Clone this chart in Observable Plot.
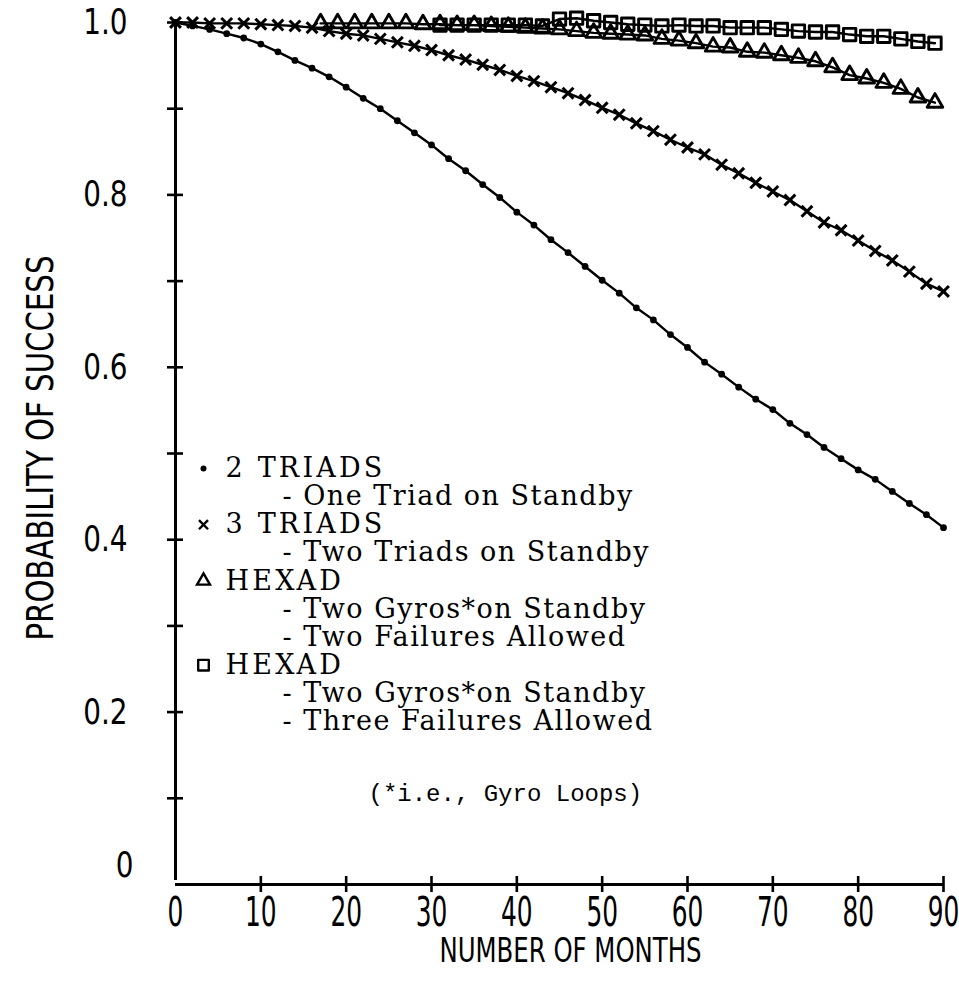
<!DOCTYPE html>
<html><head><meta charset="utf-8">
<script src="https://cdn.jsdelivr.net/npm/d3@7"></script>
<script src="https://cdn.jsdelivr.net/npm/@observablehq/plot@0.6"></script>
<style>
html,body{margin:0;padding:0;background:#fff;}
#chart{width:959px;height:1001px;}
</style></head><body><div id="chart"></div>
<script>
// ---- data ----
const monthsEven = [0,2,4,6,8,10,12,14,16,18,20,22,24,26,28,30,32,34,36,38,40,42,44,46,48,50,52,54,56,58,60,62,64,66,68,70,72,74,76,78,80,82,84,86,88,90];
const twoTriads = [1.0,0.996,0.992,0.987,0.982,0.975,0.966,0.956,0.947,0.937,0.925,0.912,0.900,0.886,0.872,0.858,0.842,0.828,0.812,0.797,0.780,0.765,0.748,0.733,0.717,0.701,0.686,0.669,0.655,0.638,0.623,0.606,0.592,0.577,0.563,0.551,0.535,0.522,0.507,0.494,0.481,0.470,0.456,0.442,0.429,0.414];
const threeTriads = [1.0,1.0,0.999,0.999,0.999,0.998,0.997,0.996,0.994,0.990,0.987,0.985,0.981,0.977,0.973,0.968,0.962,0.957,0.951,0.945,0.938,0.932,0.925,0.918,0.910,0.901,0.893,0.883,0.874,0.864,0.855,0.847,0.835,0.825,0.814,0.804,0.794,0.781,0.768,0.759,0.747,0.735,0.724,0.711,0.697,0.688];
const hexadTwoMonths = [17,19,21,23,25,27,29,31,33,35,37,39,41,43,45,47,49,51,53,55,57,59,61,63,65,67,69,71,73,75,77,79,81,83,85,87,89];
const hexadTwoFail = [0.999,0.999,0.999,0.999,0.999,0.999,0.998,0.998,0.997,0.997,0.996,0.995,0.994,0.993,0.992,0.990,0.988,0.987,0.986,0.985,0.981,0.979,0.976,0.972,0.971,0.966,0.965,0.962,0.959,0.955,0.948,0.939,0.935,0.930,0.923,0.913,0.907];
const hexadThreeMonths = [31,33,35,37,39,41,43,45,47,49,51,53,55,57,59,61,63,65,67,69,71,73,75,77,79,81,83,85,87,89];
const hexadThreeFail = [0.997,0.997,0.997,0.997,0.997,0.997,0.996,1.004,1.005,1.002,1.0,0.998,0.997,0.996,0.997,0.996,0.996,0.994,0.994,0.994,0.992,0.990,0.989,0.989,0.986,0.984,0.984,0.981,0.978,0.976];

const xTickValues = [10,20,30,40,50,60,70,80,90];
const xTickLabels = [0,10,20,30,40,50,60,70,80,90];
const yTickValues = [0.1,0.2,0.3,0.4,0.5,0.6,0.7,0.8,0.9,1.0];
const yTickLabelValues = [0.2,0.4,0.6,0.8,1.0];
const yTickLabelTexts = ["0.2","0.4","0.6","0.8","1.0"];

const legendSymbols = ["circle","times","triangle","square"];
const legendHeads = ["2 TRIADS","3 TRIADS","HEXAD","HEXAD"];
const legendSubs = [["- One Triad on Standby"],["- Two Triads on Standby"],["- Two Gyros*on Standby","- Two Failures Allowed"],["- Two Gyros*on Standby","- Three Failures Allowed"]];
const footnote = "(*i.e., Gyro Loops)";
const xTitle = "NUMBER OF MONTHS";
const yTitle = "PROBABILITY OF SUCCESS";

// ---- tables ----
const tTwo = monthsEven.map((m,i)=>({m, p: twoTriads[i]}));
const tThree = monthsEven.map((m,i)=>({m, p: threeTriads[i]}));
const tHexA = hexadTwoMonths.map((m,i)=>({m, p: hexadTwoFail[i]}));
const tHexB = hexadThreeMonths.map((m,i)=>({m, p: hexadThreeFail[i]}));

// ---- layout ----
const ML = 175, MT = 22;
const sans = "'Liberation Sans Narrow','DejaVu Sans Condensed','Liberation Sans',Arial,sans-serif";
const serif = "'DejaVu Serif','Liberation Serif',serif";
const mono = "'Liberation Mono','DejaVu Sans Mono',monospace";
const K = "#000";

// legend rows
const legendMarks = [];
let row = 0;
const rowY = r => 468 + 28.1 * r;
legendHeads.forEach((h, k) => {
  const sym = legendSymbols[k];
  const symOpts = sym === "circle" ? {r: 3, fill: K} :
                  sym === "times" ? {r: 4.2, stroke: K, strokeWidth: 2.4} :
                  sym === "triangle" ? {r: 4.8, stroke: K, strokeWidth: 2.4, fill: "none"} :
                  {r: 6, stroke: K, strokeWidth: 2.4, fill: "none", strokeLinejoin: "round"};
  legendMarks.push(Plot.dot([h], {frameAnchor: "top-left", dx: 203 - ML, dy: rowY(row) - MT, symbol: sym, ...symOpts}));
  legendMarks.push(Plot.text([h], {frameAnchor: "top-left", dx: 225 - ML, dy: rowY(row) - MT, text: d => d, textAnchor: "start", lineAnchor: "middle", fontFamily: serif, fontSize: 27, fill: K, ariaDescription: "ls-3.2"}));
  row++;
  legendSubs[k].forEach(s => {
    legendMarks.push(Plot.text([s], {frameAnchor: "top-left", dx: 282 - ML, dy: rowY(row) - MT, text: d => d, textAnchor: "start", lineAnchor: "middle", fontFamily: serif, fontSize: 27, fill: K, ariaDescription: "ls-1.5"}));
    row++;
  });
});

const chart = Plot.plot({
  width: 959, height: 1001,
  marginLeft: ML, marginRight: 16, marginTop: MT, marginBottom: 117,
  x: {domain: [0, 90], axis: null},
  y: {domain: [0, 1], axis: null},
  style: {background: "#fff", color: K, overflow: "visible"},
  marks: [
    // axes
    Plot.ruleX([0], {y1: 0, y2: 1, insetTop: -4, stroke: K, strokeWidth: 3}),
    Plot.ruleY([0], {x1: 0, x2: 90, stroke: K, strokeWidth: 3}),
    Plot.ruleX(xTickValues, {x: d => d, y1: 0, y2: 0, insetTop: -8, insetBottom: -8, stroke: K, strokeWidth: 2.6}),
    Plot.ruleY(yTickValues, {y: d => d, x1: 0, x2: 0, insetLeft: -8, insetRight: -8, stroke: K, strokeWidth: 2.6}),
    Plot.text(xTickLabels, {x: d => d, y: 0, dy: 29, text: d => String(d), lineAnchor: "middle", fontFamily: sans, fontSize: 40, fill: K, ariaDescription: "scale-0.69"}),
    Plot.text(yTickLabelValues, {x: 0, y: d => d, dx: -48, text: (d, i) => yTickLabelTexts[i], textAnchor: "end", lineAnchor: "middle", fontFamily: sans, fontSize: 36, fill: K, ariaDescription: "scale-0.86"}),
    Plot.text(["0"], {x: 0, y: 0, dx: -42, dy: -19, text: d => d, textAnchor: "end", lineAnchor: "middle", fontFamily: sans, fontSize: 36, fill: K, ariaDescription: "scale-0.86"}),
    Plot.text([yTitle], {frameAnchor: "left", dx: -135, dy: 187, rotate: -90, text: d => d, textAnchor: "start", lineAnchor: "middle", fontFamily: sans, fontSize: 38, fill: K, ariaDescription: "len-385"}),
    Plot.text([xTitle], {frameAnchor: "bottom", dx: 11, dy: 67, text: d => d, textAnchor: "middle", lineAnchor: "middle", fontFamily: sans, fontSize: 33, fill: K, ariaDescription: "len-262"}),
    // series lines
    Plot.line(tTwo, {x: "m", y: "p", stroke: K, strokeWidth: 2.4}),
    Plot.line(tThree, {x: "m", y: "p", stroke: K, strokeWidth: 2.4}),
    Plot.line(tHexA, {x: "m", y: "p", stroke: K, strokeWidth: 2.4}),
    Plot.line(tHexB, {x: "m", y: "p", stroke: K, strokeWidth: 2.4}),
    // series markers
    Plot.dot(tTwo, {x: "m", y: "p", symbol: "circle", r: 3.4, fill: K}),
    Plot.dot(tThree, {x: "m", y: "p", symbol: "times", r: 5, stroke: K, strokeWidth: 3}),
    Plot.dot(tHexA, {x: "m", y: "p", symbol: "triangle", r: 5.8, stroke: K, strokeWidth: 2.9, fill: "none", strokeLinejoin: "round"}),
    Plot.dot(tHexB, {x: "m", y: "p", symbol: "square", r: 7, stroke: K, strokeWidth: 2.9, fill: "none", strokeLinejoin: "round"}),
    // legend
    ...legendMarks,
    Plot.text([footnote], {frameAnchor: "top-left", dx: 368 - ML, dy: 793 - MT, text: d => d, textAnchor: "start", lineAnchor: "middle", fontFamily: mono, fontSize: 24, fill: K})
  ]
});
document.getElementById("chart").append(chart);

// condensed sans text (reference uses a condensed face) and spaced legend text
d3.select(chart).selectAll("g[aria-description]").each(function() {
  const desc = this.getAttribute("aria-description");
  const ls = /^ls-([\d.]+)$/.exec(desc);
  if (ls) { d3.select(this).selectAll("text").style("letter-spacing", ls[1] + "px"); return; }
  const m = /^(scale|len)-([\d.]+)$/.exec(desc);
  if (!m) return;
  d3.select(this).selectAll("text").each(function() {
    const w = this.getComputedTextLength();
    const target = m[1] === "scale" ? w * (+m[2]) : +m[2];
    this.setAttribute("textLength", target);
    this.setAttribute("lengthAdjust", "spacingAndGlyphs");
  });
});
</script>
</body></html>
